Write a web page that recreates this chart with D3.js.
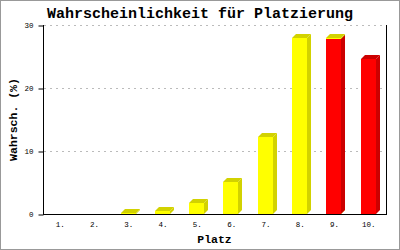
<!DOCTYPE html>
<html><head><meta charset="utf-8">
<script src="https://cdn.jsdelivr.net/npm/d3@7"></script>
<style>body{margin:0;background:#fff}svg{display:block}</style>
</head><body>
<script>
const categories = ["1.","2.","3.","4.","5.","6.","7.","8.","9.","10."];
const yellowValues = [0,0,0.15,0.5,1.8,5.1,12.2,27.9,28.0,0];
const redValues = [0,0,0,0,0,0,0,0,27.8,24.6];
const yTicks = [0,10,20,30];
const titleText = "Wahrscheinlichkeit für Platzierung";
const xTitle = "Platz";
const yTitle = "Wahrsch. (%)";

const W = 400, H = 250;
const m = {l:43, r:386, t:25, b:214};
const svg = d3.select("body").append("svg").attr("width",W).attr("height",H);
svg.append("rect").attr("x",0.5).attr("y",0.5).attr("width",W-1).attr("height",H-1)
  .attr("fill","#fff").attr("stroke","#999");

const x = d3.scaleBand().domain(categories).range([m.l,m.r]);
const y = d3.scaleLinear().domain([0,30]).range([m.b,m.t]);
const font = "'Liberation Mono', 'DejaVu Sans Mono', monospace";

// grid
svg.append("g").selectAll("line").data(yTicks.filter(d=>d>0)).join("line")
  .attr("x1",m.l+1).attr("x2",m.r).attr("y1",d=>Math.round(y(d))+0.5).attr("y2",d=>Math.round(y(d))+0.5)
  .attr("stroke","#bbb").attr("stroke-dasharray","2,4").attr("shape-rendering","crispEdges");

const depth = 4;
function drawBars(values, front, dark, topRule){
  const g = svg.append("g");
  values.forEach((v,i)=>{
    if(v<=0) return;
    const bw = x.bandwidth();
    const x0 = Math.round(x(categories[i]) + bw*0.26);
    const x1 = x0 + Math.round(bw*0.44);
    const yt = Math.round(y(v)), yb = Math.round(y(0));
    g.append("polygon").attr("points",[[x1,yt],[x1+depth,yt-depth],[x1+depth,yb-depth],[x1,yb]].join(" "))
      .attr("fill",dark);
    if(topRule(i)) g.append("polygon").attr("points",[[x0,yt],[x0+depth,yt-depth],[x1+depth,yt-depth],[x1,yt]].join(" "))
      .attr("fill",dark);
    g.append("rect").attr("x",x0).attr("y",yt).attr("width",x1-x0).attr("height",Math.max(0,yb-yt)).attr("fill",front);
  });
}
drawBars(yellowValues,"#ffff00","#d2d200",()=>true);
drawBars(redValues,"#ff0000","#cc0000",i=>redValues[i]>yellowValues[i]);

// axes lines
svg.append("line").attr("x1",m.l+0.5).attr("x2",m.l+0.5).attr("y1",m.t).attr("y2",m.b+1).attr("stroke","#000");
svg.append("line").attr("x1",m.r+0.5).attr("x2",m.r+0.5).attr("y1",m.t).attr("y2",m.b+1).attr("stroke","#000");
svg.append("line").attr("x1",m.l).attr("x2",m.r+1).attr("y1",m.b+0.5).attr("y2",m.b+0.5).attr("stroke","#000");

// y axis
const ya = svg.append("g").attr("transform",`translate(${m.l+0.5},0.5)`)
  .call(d3.axisLeft(y).tickValues(yTicks).tickSize(5).tickPadding(5).tickFormat(d3.format("d")));
ya.select(".domain").remove();
ya.selectAll("line").attr("stroke","#000");
ya.selectAll("text").attr("font-family",font).attr("font-size","7.5px").attr("fill","#000");

// x labels
svg.append("g").selectAll("text").data(categories).join("text")
  .attr("x",d=>x(d)+x.bandwidth()/2).attr("y",227).attr("text-anchor","middle")
  .attr("font-family",font).attr("font-size","7.5px").text(d=>d);

// titles
svg.append("text").attr("x",200).attr("y",18).attr("text-anchor","middle")
  .attr("font-family",font).attr("font-weight","bold").attr("font-size","15px").text(titleText);
svg.append("text").attr("x",(m.l+m.r)/2).attr("y",243).attr("text-anchor","middle")
  .attr("font-family",font).attr("font-weight","bold").attr("font-size","11.5px").text(xTitle);
svg.append("text").attr("transform",`translate(17,${(m.t+m.b)/2}) rotate(-90)`).attr("text-anchor","middle")
  .attr("font-family",font).attr("font-weight","bold").attr("font-size","11.5px").text(yTitle);
</script>
</body></html>
